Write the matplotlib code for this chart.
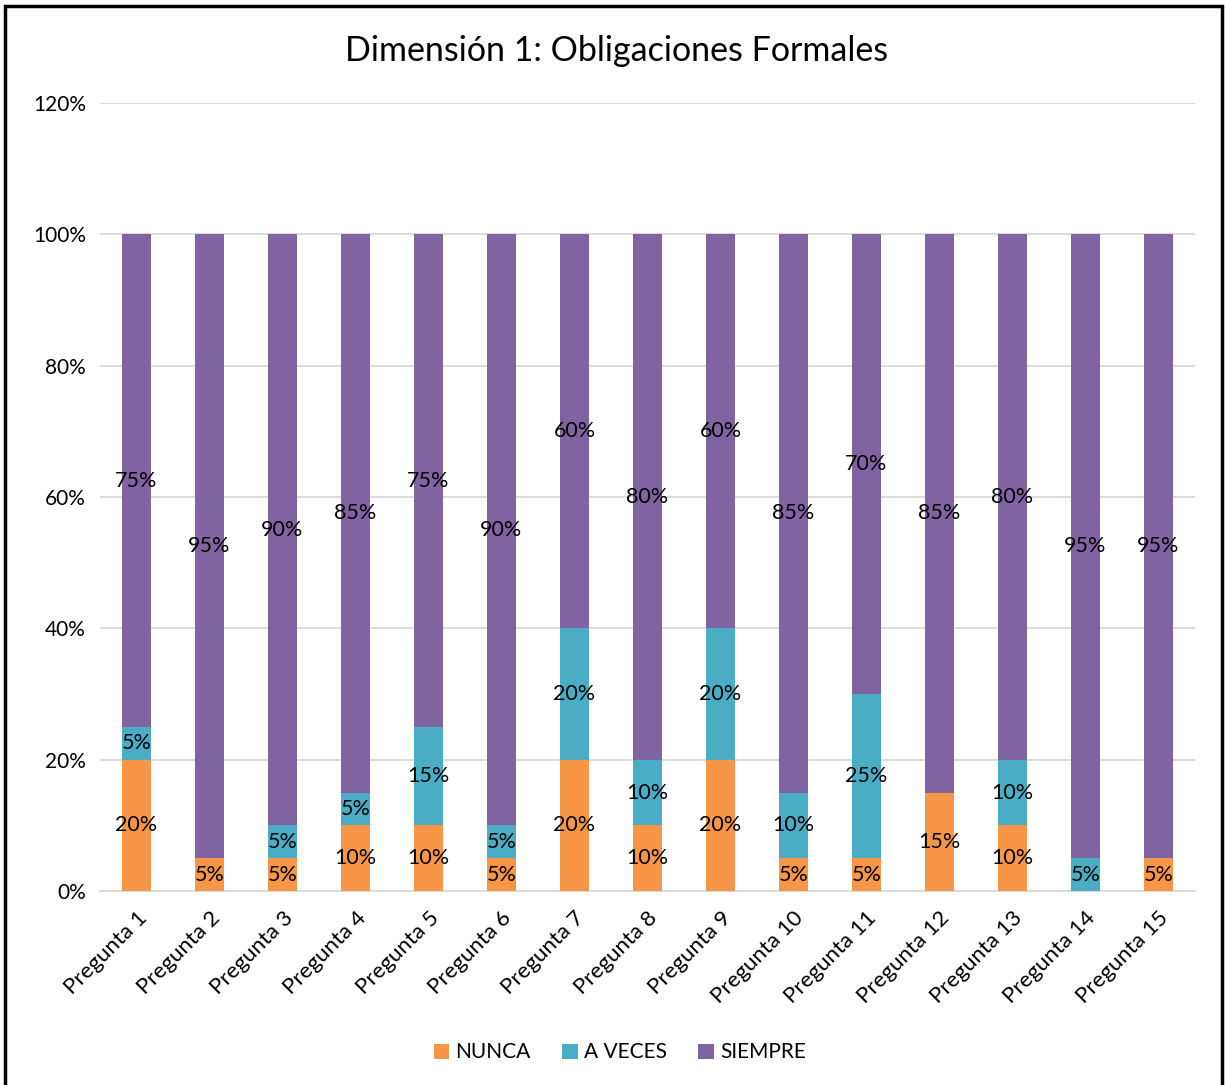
import matplotlib
matplotlib.use("Agg")
import matplotlib.pyplot as plt
from matplotlib.patches import Rectangle
from matplotlib.ticker import PercentFormatter, MultipleLocator

plt.rcParams['font.family'] = ['Lato', 'DejaVu Sans']

categories = [f"Pregunta {i}" for i in range(1, 16)]
nunca   = [20, 5, 5, 10, 10, 5, 20, 10, 20, 5, 5, 15, 10, 0, 5]
a_veces = [5, 0, 5, 5, 15, 5, 20, 10, 20, 10, 25, 0, 10, 5, 0]
siempre = [75, 95, 90, 85, 75, 90, 60, 80, 60, 85, 70, 85, 80, 95, 95]
series_names = ["NUNCA", "A VECES", "SIEMPRE"]
colors = ["#F79646", "#4BACC6", "#8064A2"]
title = "Dimensión 1: Obligaciones Formales"

fig = plt.figure(figsize=(12.25, 10.85), dpi=100)
ax = fig.add_axes([0.0816, 0.1788, 0.8939, 0.7262])

x = list(range(len(categories)))
bottom = [0] * len(categories)
for name, vals, col in zip(series_names, [nunca, a_veces, siempre], colors):
    ax.bar(x, vals, width=0.4, bottom=bottom, color=col, label=name, zorder=3)
    for xi, v, b in zip(x, vals, bottom):
        if v > 0:
            ax.text(xi, b + v / 2, f"{v}%", ha='center', va='center',
                    fontsize=15.5, color='black', zorder=4)
    bottom = [b + v for b, v in zip(bottom, vals)]

ax.set_ylim(0, 120)
ax.set_xlim(-0.5, len(categories) - 0.5)
ax.yaxis.set_major_locator(MultipleLocator(20))
ax.yaxis.set_major_formatter(PercentFormatter(decimals=0))
ax.grid(axis='y', color='#d9d9d9', linewidth=1.3, zorder=0)
ax.set_axisbelow(True)
for s in ['top', 'right', 'left']:
    ax.spines[s].set_visible(False)
ax.spines['bottom'].set_color('#d9d9d9')
ax.spines['bottom'].set_linewidth(1.3)
ax.tick_params(axis='y', length=0, labelsize=15, colors='black', pad=10)
ax.tick_params(axis='x', length=0, labelsize=16, colors='black', pad=12)
ax.set_xticks(x)
ax.set_xticklabels(categories, rotation=45, ha='right', rotation_mode='anchor')

fig.text(0.503, 0.953, title, ha='center', va='center', fontsize=24.5, color='black')

fig.legend(loc='center', bbox_to_anchor=(0.506, 0.030), ncol=3, frameon=False,
           fontsize=15, handlelength=0.75, handleheight=0.75, handletextpad=0.3,
           columnspacing=1.5)

frame = Rectangle((5 / 1225, -0.01), (1222 - 5) / 1225, 1 - 6 / 1085 + 0.01,
                  transform=fig.transFigure, fill=False, edgecolor='black',
                  linewidth=2.5, clip_on=False)
fig.patches.append(frame)

fig.savefig("out.png", dpi=100, facecolor='white')
